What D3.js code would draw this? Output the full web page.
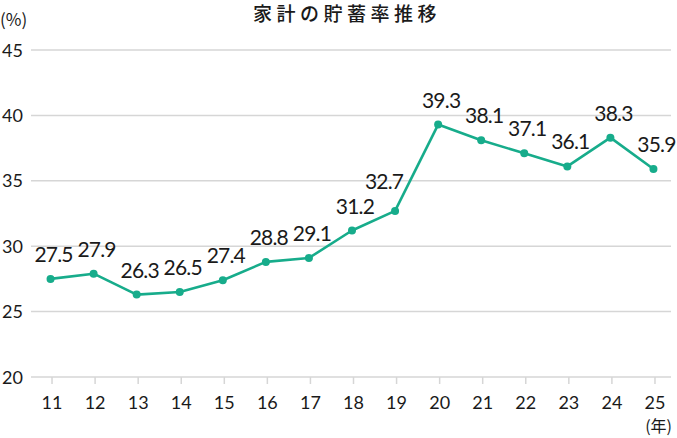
<!DOCTYPE html>
<html>
<head>
<meta charset="utf-8">
<script src="https://cdn.jsdelivr.net/npm/d3@7"></script>
<style>
  body { margin: 0; background: #fff; }
  svg { display: block; }
  text { font-family: Lato, "Noto Sans CJK JP", sans-serif; fill: #1a1a1a; }
</style>
</head>
<body>
<svg width="677" height="438"></svg>
<script>
// 家計の貯蓄率推移
const years = ["11", "12", "13", "14", "15", "16", "17", "18", "19", "20", "21", "22", "23", "24", "25"];
const rates = [27.5, 27.9, 26.3, 26.5, 27.4, 28.8, 29.1, 31.2, 32.7, 39.3, 38.1, 37.1, 36.1, 38.3, 35.9];
const yTicks = [20, 25, 30, 35, 40, 45];

const svg = d3.select("svg");
const teal = "#17ac8b";

const x = d3.scalePoint().domain(years).range([29, 675]).padding(0.5);
const y = d3.scaleLinear().domain([20, 45]).range([377, 50]);

// gridlines
svg.append("g")
  .selectAll("line")
  .data(yTicks)
  .join("line")
  .attr("x1", 31)
  .attr("x2", 671)
  .attr("y1", d => y(d))
  .attr("y2", d => y(d))
  .attr("stroke", "#d6d6d6")
  .attr("stroke-width", 1.5);

// y labels
svg.append("g")
  .selectAll("text")
  .data(yTicks)
  .join("text")
  .attr("x", 23)
  .attr("y", d => y(d) + 6.5)
  .attr("text-anchor", "end")
  .style("font-size", "18px")
  .text(d => d);

// x ticks and labels
const xa = svg.append("g");
xa.selectAll("line")
  .data(years)
  .join("line")
  .attr("x1", d => x(d) + 1.5)
  .attr("x2", d => x(d) + 1.5)
  .attr("y1", 377)
  .attr("y2", 384)
  .attr("stroke", "#d6d6d6")
  .attr("stroke-width", 1.5);
xa.selectAll("text")
  .data(years)
  .join("text")
  .attr("x", d => x(d) + 1.5)
  .attr("y", 409)
  .attr("text-anchor", "middle")
  .style("font-size", "18px")
  .text(d => d);

// line + markers
const line = d3.line()
  .x((d, i) => x(years[i]))
  .y(d => y(d));

svg.append("path")
  .datum(rates)
  .attr("d", line)
  .attr("fill", "none")
  .attr("stroke", teal)
  .attr("stroke-width", 2.6)
  .attr("stroke-linejoin", "round");

svg.append("g")
  .selectAll("circle")
  .data(rates)
  .join("circle")
  .attr("cx", (d, i) => x(years[i]))
  .attr("cy", d => y(d))
  .attr("r", 4)
  .attr("fill", teal);

// value labels (32.7 sits up-left to clear the line)
svg.append("g")
  .selectAll("text")
  .data(rates)
  .join("text")
  .attr("x", (d, i) => x(years[i]) + (i === 8 ? -11 : 3))
  .attr("y", d => y(d) - (d === 32.7 ? 22 : 17))
  .attr("text-anchor", "middle")
  .style("font-size", "21px")
  .style("letter-spacing", "-0.8px")
  .text(d => d.toFixed(1));

// title and unit labels
svg.append("text")
  .attr("x", 347)
  .attr("y", 21)
  .attr("text-anchor", "middle")
  .style("font-family", "'Noto Sans CJK JP', sans-serif")
  .style("font-size", "19px")
  .style("font-weight", "500")
  .style("letter-spacing", "4.5px")
  .text("家計の貯蓄率推移");

svg.append("text")
  .attr("x", 0)
  .attr("y", 26)
  .style("font-family", "'Noto Sans CJK JP', sans-serif")
  .style("font-size", "17px")
  .text("(%)");

svg.append("text")
  .attr("x", 672)
  .attr("y", 432)
  .attr("text-anchor", "end")
  .style("font-family", "'Noto Sans CJK JP', sans-serif")
  .style("font-size", "16px")
  .text("(年)");
</script>
</body>
</html>
